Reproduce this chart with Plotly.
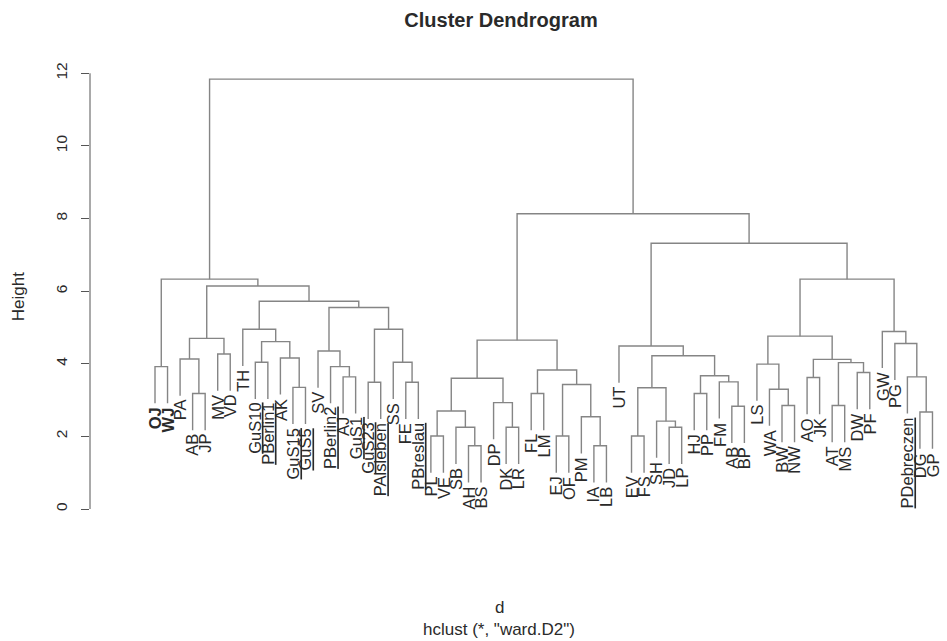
import plotly.graph_objects as go

# Leaf labels in dendrogram order
leaf_labels = ["OJ", "WJ", "PA", "AB", "JP", "MV", "VD", "TH", "GuS10", "PBerlin1",
               "AK", "GuS15", "GuS5", "SV", "PBerlin2", "AJ", "GuS1", "GuS23", "PAlsleben", "SS",
               "FE", "PBreslau", "PL", "VE", "SB", "AH", "BS", "DP", "DK", "LR",
               "FL", "LM", "EJ", "OF", "PM", "IA", "LB", "UT", "EV", "FS",
               "SH", "JD", "LP", "HJ", "PP", "FM", "AB", "BP", "LS", "WA",
               "BW", "NW", "AO", "JK", "AT", "MS", "DW", "PF", "GW", "PG",
               "PDebreczen", "DG", "GP"]
underlined_labels = ["GuS10", "PBerlin1", "GuS15", "GuS5", "PBerlin2", "GuS1", "GuS23",
                     "PAlsleben", "PBreslau", "PDebreczen"]
bold_labels = ["OJ", "WJ"]

# hclust-style merge table: negative = leaf (position in order), positive = earlier merge
merge_a = [-26, -36, -23, -33, -39, -25, -29, -42, -41, -35,
           -62, 3, -47, -51, -55, -28, -4, -31, -44, -50,
           5, -12, 4, -18, -21, -46, 12, -53, -16, -61,
           19, -57, 18, -1, -15, -49, 15, -9, -20, 28,
           -3, -11, 21, -6, -14, -38, -60, 38, 27, 41,
           36, -59, -8, 24, 45, 53, 50, 51, 34, 46,
           49, 59]
merge_b = [-27, -37, -24, -34, -40, 1, -30, -43, 8, 2,
           -63, 6, -48, -52, -56, 7, -5, -32, -45, 14,
           9, -13, 10, -19, -22, 13, 16, -54, -17, 11,
           26, -58, 23, -2, 29, 20, 32, -10, 25, 37,
           17, 22, 31, -7, 35, 43, 30, 42, 33, 44,
           40, 47, 48, 39, 54, 55, 56, 52, 57, 58,
           60, 61]
merge_height = [1.74, 1.74, 2.01, 2.01, 2.01, 2.25, 2.25, 2.25, 2.42, 2.54,
                2.67, 2.70, 2.83, 2.85, 2.85, 2.93, 3.18, 3.18, 3.18, 3.30,
                3.34, 3.35, 3.43, 3.49, 3.49, 3.50, 3.60, 3.62, 3.64, 3.64,
                3.67, 3.76, 3.83, 3.92, 3.92, 3.99, 4.03, 4.04, 4.04, 4.12,
                4.13, 4.16, 4.22, 4.27, 4.35, 4.49, 4.56, 4.61, 4.65, 4.70,
                4.76, 4.89, 4.95, 4.95, 5.55, 5.72, 6.14, 6.33, 6.33, 7.32,
                8.13, 11.84]

y_ticks = [0, 2, 4, 6, 8, 10, 12]

hang = 0.1 * (max(merge_height) - min(merge_height))

merge_x = []
leaf_end = {}
seg_x, seg_y = [], []


def node_pos(ref):
    return float(-ref) if ref < 0 else merge_x[ref - 1]


for a, b, h in zip(merge_a, merge_b, merge_height):
    xa, xb = node_pos(a), node_pos(b)
    tops = []
    for ref in (a, b):
        if ref < 0:
            leaf_end[-ref] = h - hang
            tops.append(h - hang)
        else:
            tops.append(merge_height[ref - 1])
    seg_x += [xa, xa, xb, xb, None]
    seg_y += [tops[0], h, h, tops[1], None]
    merge_x.append((xa + xb) / 2)

font_family = "Liberation Sans, Arial, Helvetica, sans-serif"
text_color = "#2a2a2a"
label_size = 16.5

fig = go.Figure()
fig.add_trace(go.Scatter(x=seg_x, y=seg_y, mode="lines",
                         line=dict(color="#858585", width=1.4),
                         hoverinfo="skip", showlegend=False))

annotations = []
for i, lab in enumerate(leaf_labels, start=1):
    txt = lab
    if lab in bold_labels:
        txt = "<b>" + txt + "</b>"
    if lab in underlined_labels:
        txt = "<u>" + txt + "</u>"
    annotations.append(dict(x=i, y=leaf_end[i], xref="x", yref="y", text=txt,
                            textangle=-90, showarrow=False, xanchor="center",
                            yanchor="top", yshift=-2,
                            font=dict(family=font_family, size=label_size, color=text_color)))

W, H = 947, 641
L, R, T, B = 90, 9, 60, 108
plot_w, plot_h = W - L - R, H - T - B

# Height axis label, x-axis caption and method note
annotations.append(dict(x=(18.5 - L) / plot_w, y=(H - B - 296.7) / plot_h,
                        xref="paper", yref="paper", text="Height", textangle=-90,
                        showarrow=False, xanchor="center", yanchor="middle",
                        font=dict(family=font_family, size=17, color=text_color)))
annotations.append(dict(x=(499 - L) / plot_w, y=(H - B - 607) / plot_h,
                        xref="paper", yref="paper", text="d",
                        showarrow=False, xanchor="center", yanchor="middle",
                        font=dict(family=font_family, size=17, color=text_color)))
annotations.append(dict(x=(499 - L) / plot_w, y=(H - B - 629) / plot_h,
                        xref="paper", yref="paper", text='hclust (*, "ward.D2")',
                        showarrow=False, xanchor="center", yanchor="middle",
                        font=dict(family=font_family, size=17, color=text_color)))

px_per_leaf = 12.54
x_lo = 1 - (155 - L) / px_per_leaf
x_hi = x_lo + plot_w / px_per_leaf
px_per_unit = 36.31
y_hi = (509 - T) / px_per_unit
y_lo = y_hi - plot_h / px_per_unit

fig.update_layout(
    width=W, height=H,
    margin=dict(l=L, r=R, t=T, b=B),
    paper_bgcolor="white", plot_bgcolor="white",
    title=dict(text="<b>Cluster Dendrogram</b>", x=(501 - L) / plot_w, xref="paper",
               xanchor="center", y=1 - 19.5 / H, yref="container", yanchor="middle",
               font=dict(family=font_family, size=20, color=text_color)),
    xaxis=dict(range=[x_lo, x_hi], visible=False, showgrid=False, zeroline=False),
    yaxis=dict(range=[y_lo, y_hi], tickvals=y_ticks, ticktext=[str(v) for v in y_ticks],
               ticks="outside", ticklen=8, tickwidth=1, tickcolor="#555555",
               tickangle=-90, ticklabelstandoff=8, showline=False, showgrid=False,
               zeroline=False,
               tickfont=dict(family=font_family, size=15.5, color=text_color)),
    annotations=annotations,
    shapes=[dict(type="line", xref="paper", yref="y", x0=0, x1=0,
                 y0=y_ticks[0], y1=y_ticks[-1], line=dict(color="#555555", width=1))],
)

fig.write_html("out.html")
